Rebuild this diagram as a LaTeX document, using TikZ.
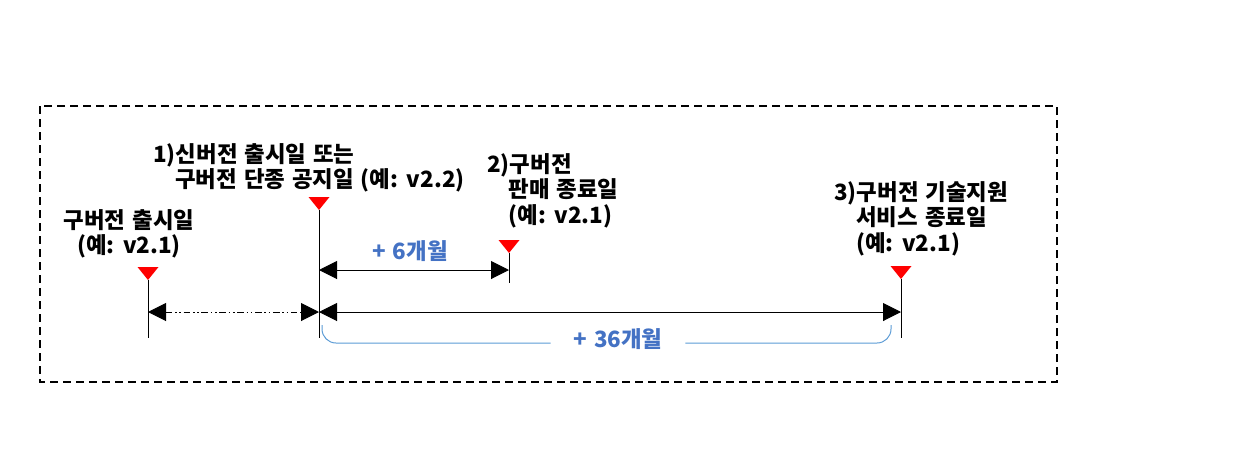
\documentclass[tikz,border=0pt]{standalone}
\usepackage{fontspec}
\setmainfont{Noto Sans CJK KR}[WordSpace=1.35]
\usetikzlibrary{arrows.meta,positioning}
\definecolor{tagred}{HTML}{FF0000}
\definecolor{spanblue}{HTML}{4472C4}
\definecolor{braceblue}{HTML}{5B9BD5}

\tikzset{
  lbl/.style={inner sep=0pt, align=left, anchor=north west,
    font=\fontsize{16.8}{19.2}\selectfont\bfseries},
  gap/.style={inner sep=0pt, text=spanblue,
    font=\fontsize{16.8}{19.2}\selectfont\bfseries},
  tick/.style={line width=0.75pt},
  span/.style={line width=0.75pt,
    {Triangle[length=13.5pt,width=13.5pt]}-{Triangle[length=13.5pt,width=13.5pt]}},
  dashdot/.style={dash pattern=on 5pt off 2pt on 1.2pt off 2pt on 1.2pt off 2pt},
  brace/.style={braceblue, line width=0.75pt, rounded corners=10.5pt},
  frame/.style={line width=1.5pt, dash pattern=on 6pt off 3.75pt},
}

\begin{document}
\begin{tikzpicture}[x=0.75pt, y=-0.75pt]
    \useasboundingbox (0,0) rectangle (1254,451);
    \draw[frame] (40,106) rectangle (1057,382);

    % markers: red tag and tick line
    \foreach \name/\x/\tip/\foot in {oldrel/148/280/338, newrel/319/210/338,
        salesend/509/253/283, supportend/901/279/338}{
      \coordinate (\name) at (\x,\tip);
      \coordinate (\name foot) at (\x,\foot);
      \fill[tagred] (\name) -- ++(-10.5,-13) -- ++(21,0) -- cycle;
      \draw[tick] (\name) -- (\name foot);
    }

    \node[lbl, anchor=north, align=center] (oldrelTxt) at (129,209)
        {구버전 출시일\\(예: v2.1)};
    \node[lbl] (newrelTxt) at (153,143)
        {1)신버전 출시일 또는\\\hspace*{16.5pt}구버전 단종 공지일 (예: v2.2)};
    \node[lbl] (salesendTxt) at (487,153)
        {2)구버전\\\hspace*{16pt}판매 종료일\\\hspace*{16pt}(예: v2.1)};
    \node[lbl] (supportendTxt) at (834,181)
        {3)구버전 기술지원\\\hspace*{16.5pt}서비스 종료일\\\hspace*{16.5pt}(예: v2.1)};

    % spans
    \draw[span] (newrel |- 0,270) -- (salesend |- 0,270);
    \draw[span, dashdot] (oldrel |- 0,312) -- (newrel |- 0,312);
    \draw[span] (newrel |- 0,312) -- (supportend |- 0,312);

    \node[gap] (six) at (410,251) {+ 6개월};
    \node[gap, inner xsep=17pt] (thirtysix) at (618,339) {+ 36개월};

    \coordinate (braceL) at (322,325);
    \coordinate (braceR) at (891,325);
    \coordinate (braceY) at (0,343);
    \draw[brace] (braceL) |- (thirtysix.west |- braceY);
    \draw[brace] (thirtysix.east |- braceY) -| (braceR);
\end{tikzpicture}
\end{document}
